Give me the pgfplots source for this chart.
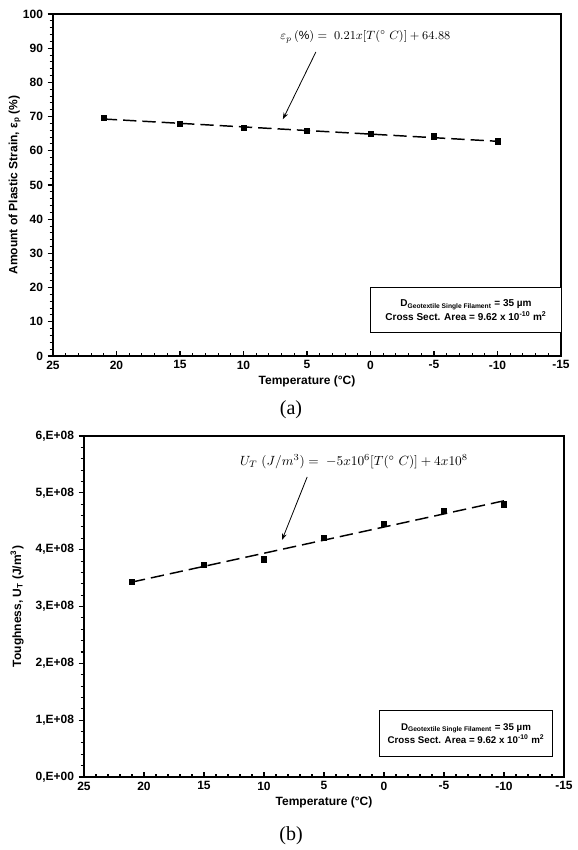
\documentclass[border=0pt]{standalone}
\usepackage{pgfplots}
\pgfplotsset{compat=1.18}
\usepackage{fontspec}
\setmainfont{Liberation Sans}
\newfontfamily\capfont{Liberation Serif}
\usetikzlibrary{arrows.meta}
\pgfplotsset{
  mystyle/.style={
    scale only axis,
    anchor=south west,
    x dir=reverse,
    xmin=-15, xmax=25,
    xtick={-15,-10,...,25},
    minor x tick num=4,
    minor y tick num=4,
    axis line style={line width=1.1pt},
    every tick/.style={black, line width=0.8pt},
    major tick length=4pt,
    minor tick length=2.5pt,
    xtick align=inside,
    ytick align=outside,
    xtick pos=bottom,
    ytick pos=left,
    tick label style={font=\bfseries\fontsize{9}{10}\selectfont},
    label style={font=\bfseries\fontsize{9}{10}\selectfont},
    /pgf/number format/assume math mode=true,
    clip=false,
  }
}
\begin{document}
\begin{tikzpicture}[x=0.75pt,y=0.75pt]
\path[use as bounding box] (0,0) rectangle (578,850);
% ---------- (a) ----------
\begin{axis}[mystyle,
  at={(39.75pt,370.5pt)},
  width=381pt, height=256.5pt,
  ymin=0, ymax=100, ytick={0,10,...,100},
  xlabel={Temperature (°C)},
  ylabel={Amount of Plastic Strain, ε\textsubscript{p} (\%)},
  xlabel style={yshift=2pt},
  ylabel style={yshift=-5pt},
]
\addplot[black, line width=1.1pt, dash pattern=on 10pt off 4.5pt] coordinates {(21,69.29) (-10,62.78)};
\addplot[only marks, mark=square*, mark size=2pt, black] coordinates {
(21,69.6) (15,68.0) (10,66.8) (5,65.8) (0,65.0) (-5,64.2) (-10,62.8)};
\draw[-{Stealth[length=5pt,width=3.5pt]}, line width=0.6pt] (axis cs:4.3,88.9) -- (axis cs:6.9,69.2);
\node[font=\fontsize{8.9}{11}\selectfont] at (axis cs:0.4,93.3) {$\varepsilon_p\,(\%) =\; 0.21x[T(^\circ\;C)] + 64.88$};
\end{axis}
\node[draw, line width=0.9pt, fill=white, minimum width=143pt, minimum height=34pt, align=center,
  font=\bfseries\fontsize{7.5}{8.5}\selectfont] at (466,540)
  {D\textsubscript{\fontsize{5}{5}\selectfont Geotextile Single Filament} = 35 µm\\Cross Sect. Area = 9.62 x 10\textsuperscript{-10} m\textsuperscript{2}};
\node[font=\capfont\fontsize{15}{17}\selectfont] at (291,440) {(a)};
% ---------- (b) ----------
\begin{axis}[mystyle,
  at={(63pt,54.75pt)},
  width=360pt, height=255.75pt,
  ymin=0, ymax=6, ytick={0,1,...,6},
  yticklabels={0{,}E+00,1{,}E+08,2{,}E+08,3{,}E+08,4{,}E+08,5{,}E+08,6{,}E+08},
  xlabel={Temperature (°C)},
  ylabel={Toughness, U\textsubscript{T} (J/m\textsuperscript{3})},
  xlabel style={yshift=2pt},
  ylabel style={yshift=2pt},
]
\addplot[black, line width=1.1pt, dash pattern=on 10pt off 4.5pt] coordinates {(21,3.43) (-10,4.86)};
\addplot[only marks, mark=square*, mark size=2pt, black] coordinates {
(21,3.43) (15,3.73) (10,3.83) (5,4.21) (0,4.46) (-5,4.68) (-10,4.80)};
\draw[-{Stealth[length=5pt,width=3.5pt]}, line width=0.6pt] (axis cs:6.4,5.28) -- (axis cs:8.5,4.17);
\node[font=\fontsize{10.3}{12}\selectfont] at (axis cs:2.5,5.55) {$U_T\;(J/m^3) =\; -5x10^6[T(^\circ\;C)] + 4x10^8$};
\end{axis}
\node[draw, line width=0.9pt, fill=white, minimum width=130pt, minimum height=35pt, align=center,
  font=\bfseries\fontsize{7.3}{8.3}\selectfont] at (466,116.5)
  {D\textsubscript{\fontsize{5}{5}\selectfont Geotextile Single Filament} = 35 µm\\Cross Sect. Area = 9.62 x 10\textsuperscript{-10} m\textsuperscript{2}};
\node[font=\capfont\fontsize{15}{17}\selectfont] at (291,14) {(b)};
\end{tikzpicture}
\end{document}
